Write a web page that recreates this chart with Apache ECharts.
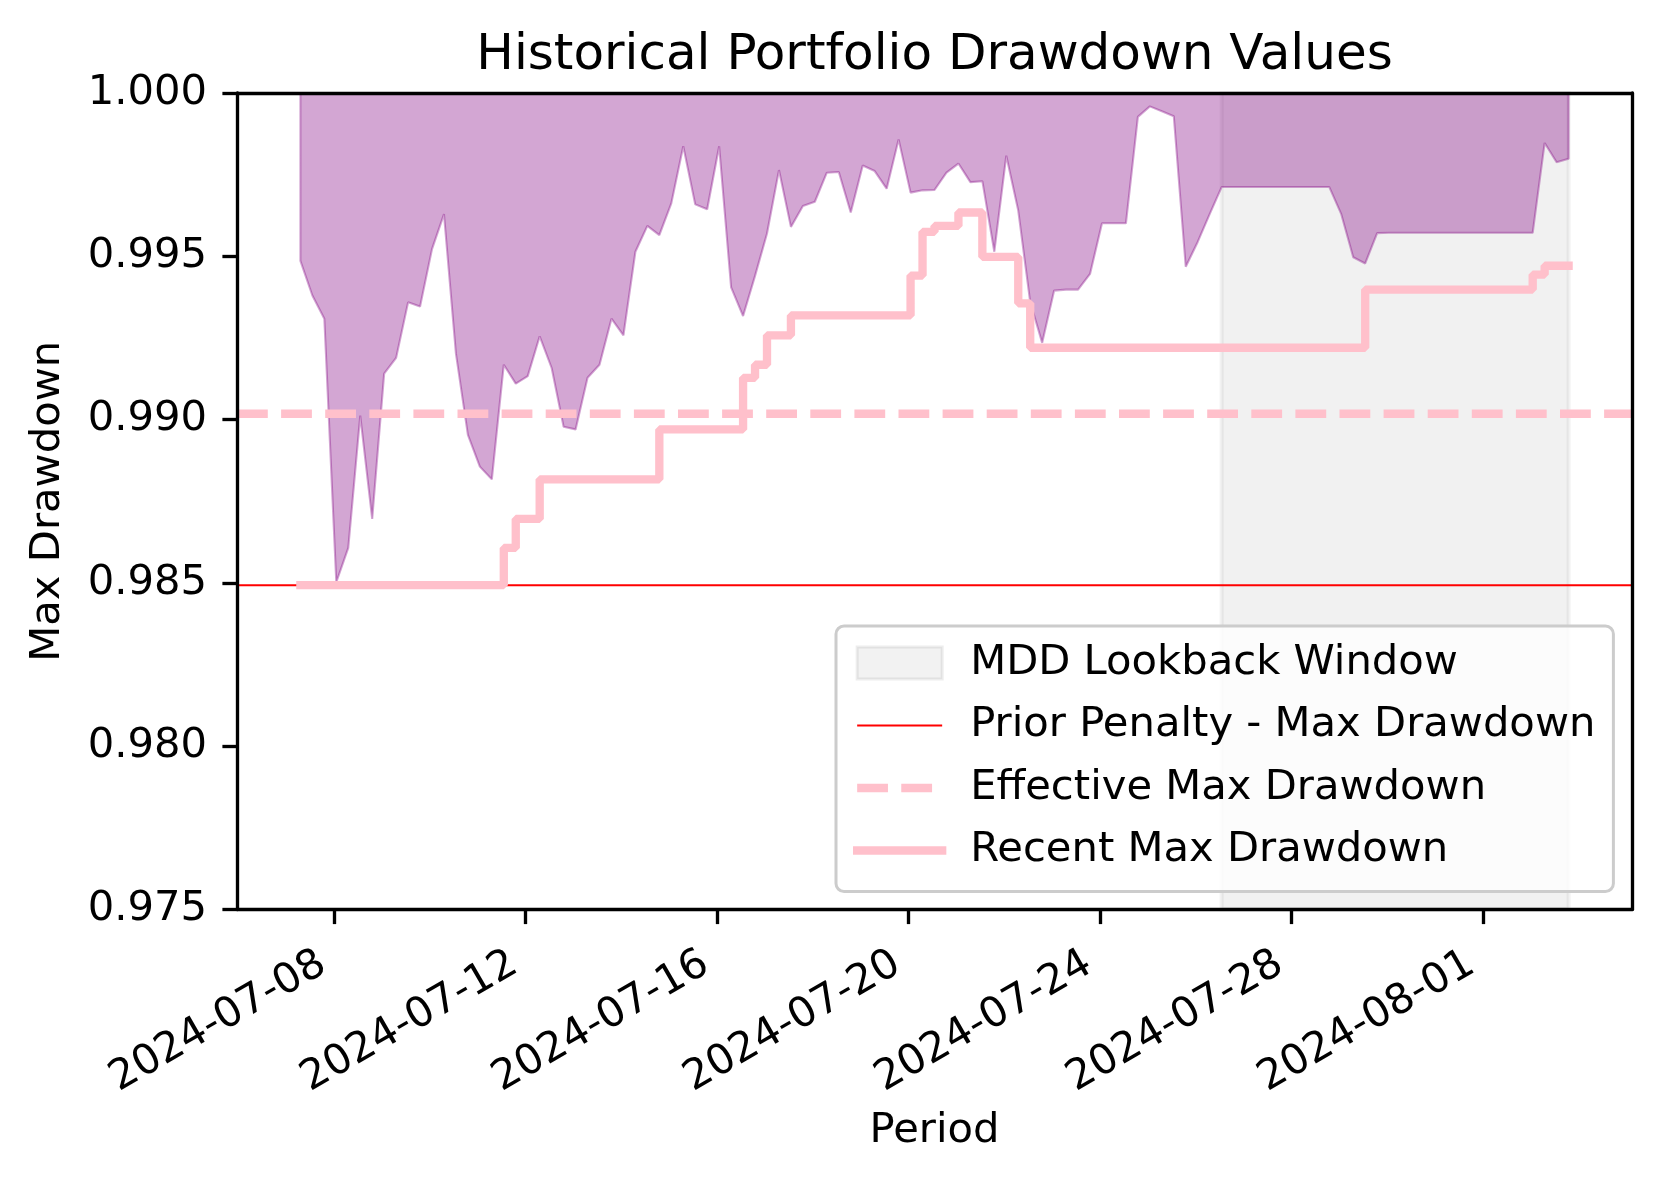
<!DOCTYPE html>
<html>
<head>
<meta charset="utf-8">
<script src="https://cdn.jsdelivr.net/npm/echarts@6/dist/echarts.min.js"></script>
<style>html,body{margin:0;padding:0;background:#fff}#chart{width:1662px;height:1184px}</style>
</head>
<body>
<div id="chart"></div>
<script>
// ---------- data ----------
const seriesStart = '2024-07-07T07:00:00Z';   // first observation
const stepHours = 6;                           // observation spacing

const drawdownValues = [
  0.99486, 0.99380, 0.99309, 0.98502, 0.98607, 0.99012, 0.98696, 0.99141, 0.99189, 0.99359,
  0.99346, 0.99522, 0.99629, 0.99202, 0.98953, 0.98856, 0.98817, 0.99168, 0.99110, 0.99133,
  0.99255, 0.99158, 0.98978, 0.98970, 0.99128, 0.99168, 0.99309, 0.99258, 0.99514, 0.99593,
  0.99565, 0.99662, 0.99837, 0.99659, 0.99644, 0.99837, 0.99405, 0.99317, 0.99440, 0.99570,
  0.99764, 0.99590, 0.99654, 0.99667, 0.99756, 0.99758, 0.99634, 0.99778, 0.99761, 0.99707,
  0.99858, 0.99695, 0.99702, 0.99703, 0.99756, 0.99784, 0.99727, 0.99730, 0.99514, 0.99808,
  0.99640, 0.99360, 0.99235, 0.99395, 0.99398, 0.99398, 0.99446, 0.99601, 0.99601, 0.99601,
  0.99927, 0.99959, 0.99944, 0.99929, 0.99468, 0.99544, 0.99629, 0.99712, 0.99712, 0.99712,
  0.99712, 0.99712, 0.99712, 0.99712, 0.99712, 0.99712, 0.99712, 0.99629, 0.99497, 0.99478,
  0.99571, 0.99572, 0.99572, 0.99572, 0.99572, 0.99572, 0.99572, 0.99572, 0.99572, 0.99572,
  0.99572, 0.99572, 0.99572, 0.99572, 0.99847, 0.99788, 0.99799
];

const recentMaxDrawdown = [
  0.98493, 0.98493, 0.98493, 0.98493, 0.98493, 0.98493, 0.98493, 0.98493, 0.98493, 0.98493,
  0.98493, 0.98493, 0.98493, 0.98493, 0.98493, 0.98493, 0.98493, 0.98493, 0.98607, 0.98696,
  0.98696, 0.98817, 0.98817, 0.98817, 0.98817, 0.98817, 0.98817, 0.98817, 0.98817, 0.98817,
  0.98817, 0.98970, 0.98970, 0.98970, 0.98970, 0.98970, 0.98970, 0.98970, 0.99128, 0.99168,
  0.99258, 0.99258, 0.99319, 0.99319, 0.99319, 0.99319, 0.99319, 0.99319, 0.99319, 0.99319,
  0.99319, 0.99319, 0.99441, 0.99575, 0.99593, 0.99593, 0.99634, 0.99634, 0.99498, 0.99498,
  0.99498, 0.99356, 0.99220, 0.99220, 0.99220, 0.99220, 0.99220, 0.99220, 0.99220, 0.99220,
  0.99220, 0.99220, 0.99220, 0.99220, 0.99220, 0.99220, 0.99220, 0.99220, 0.99220, 0.99220,
  0.99220, 0.99220, 0.99220, 0.99220, 0.99220, 0.99220, 0.99220, 0.99220, 0.99220, 0.99220,
  0.99398, 0.99398, 0.99398, 0.99398, 0.99398, 0.99398, 0.99398, 0.99398, 0.99398, 0.99398,
  0.99398, 0.99398, 0.99398, 0.99398, 0.99444, 0.99471, 0.99471
];

const effectiveMaxDrawdown = 0.99018;
const priorPenaltyMaxDrawdown = 0.98493;
const lookbackWindow = ['2024-07-26T13:00:00Z', '2024-08-02T19:00:00Z'];

const xTickDates = ['2024-07-08', '2024-07-12', '2024-07-16', '2024-07-20', '2024-07-24', '2024-07-28', '2024-08-01'];
const yTickValues = [0.975, 0.980, 0.985, 0.990, 0.995, 1.000];

const titleText = 'Historical Portfolio Drawdown Values';
const xName = 'Period';
const yName = 'Max Drawdown';
const legendNames = ['MDD Lookback Window', 'Prior Penalty - Max Drawdown', 'Effective Max Drawdown', 'Recent Max Drawdown'];

// ---------- build ----------
const t0 = Date.parse(seriesStart);
const times = drawdownValues.map((_, i) => t0 + i * stepHours * 3600e3);
const tFirst = times[0], tLast = times[times.length - 1];
const span = tLast - tFirst;
const xMin = tFirst - 0.05 * span, xMax = tLast + 0.05 * span;
const yMin = yTickValues[0], yMax = yTickValues[yTickValues.length - 1];

const areaData = [[tFirst, yMax]]
  .concat(times.map((t, i) => [t, drawdownValues[i]]))
  .concat([[tLast, yMax]]);
const recentData = times.map((t, i) => [t, recentMaxDrawdown[i]]);
const priorData = [[xMin, priorPenaltyMaxDrawdown], [xMax, priorPenaltyMaxDrawdown]];
const effectiveData = [[xMin, effectiveMaxDrawdown], [xMax, effectiveMaxDrawdown]];
const xTicks = xTickDates.map(s => Date.parse(s + 'T00:00:00Z'));

const pad = n => String(n).padStart(2, '0');
const fmtDate = v => { const d = new Date(v); return d.getUTCFullYear() + '-' + pad(d.getUTCMonth() + 1) + '-' + pad(d.getUTCDate()); };

const FS = 41.7, LW = 8.33, SP = 3.33;
const purple = 'rgba(128,0,128,0.35)';
const pink = '#ffc0cb';
const red = '#ff0000';
const black = '#000000';
const dash = [30.8, 13.3];

const chart = echarts.init(document.getElementById('chart'), null, { renderer: 'canvas' });
chart.setOption({
  animation: false,
  backgroundColor: '#ffffff',
  textStyle: { fontFamily: 'DejaVu Sans', color: black },
  title: {
    text: titleText, left: 934.5, top: 31, textAlign: 'center', padding: 0,
    textStyle: { fontSize: 50, fontWeight: 'normal', color: black, lineHeight: 50, fontFamily: 'DejaVu Sans' }
  },
  grid: { left: 237, right: 30, top: 93, bottom: 274.5, containLabel: false },
  legend: {
    data: [
      { name: legendNames[0], icon: 'rect', itemStyle: { color: 'rgba(128,128,128,0.1)', borderColor: 'rgba(128,128,128,0.14)', borderWidth: 3 } },
      { name: legendNames[1], itemStyle: { opacity: 0 }, lineStyle: { color: red, width: 2.1, type: 'solid' } },
      { name: legendNames[2], itemStyle: { opacity: 0 }, lineStyle: { color: pink, width: LW, type: dash, cap: 'butt' } },
      { name: legendNames[3], itemStyle: { opacity: 0 }, lineStyle: { color: pink, width: LW, type: 'solid', cap: 'square' } }
    ],
    orient: 'vertical', left: 836, top: 626, z: 20,
    itemWidth: 85, itemHeight: 32, itemGap: 20.5,
    padding: [16, 18, 20, 17],
    backgroundColor: 'rgba(255,255,255,0.8)', borderColor: '#cccccc', borderWidth: 3, borderRadius: 8,
    textStyle: { fontSize: FS, lineHeight: 42, color: black, padding: [0, 0, 0, 23], fontFamily: 'DejaVu Sans' },
    selectedMode: false
  },
  xAxis: [
    {
      type: 'value', min: xMin, max: xMax, position: 'bottom', z: 10,
      axisLine: { show: true, onZero: false, lineStyle: { color: black, width: SP } },
      axisTick: { show: true, length: 14.6, lineStyle: { color: black, width: SP }, customValues: xTicks },
      axisLabel: { show: true, rotate: 30, margin: 45, padding: [0, 13, 0, 0], fontSize: FS, color: black, customValues: xTicks, formatter: fmtDate },
      splitLine: { show: false },
      name: xName, nameLocation: 'middle', nameGap: 201, nameTextStyle: { fontSize: FS, color: black }
    },
    {
      type: 'value', min: xMin, max: xMax, position: 'top', z: 10,
      axisLine: { show: true, onZero: false, lineStyle: { color: black, width: SP } },
      axisTick: { show: false }, axisLabel: { show: false }, splitLine: { show: false }
    }
  ],
  yAxis: [
    {
      type: 'value', min: yMin, max: yMax, interval: 0.005, position: 'left', z: 10,
      axisLine: { show: true, onZero: false, lineStyle: { color: black, width: SP } },
      axisTick: { show: true, length: 14.6, lineStyle: { color: black, width: SP } },
      axisLabel: { show: true, margin: 30, fontSize: FS, color: black, formatter: v => v.toFixed(3) },
      splitLine: { show: false },
      name: yName, nameLocation: 'middle', nameGap: 168, nameTextStyle: { fontSize: FS, color: black }
    },
    {
      type: 'value', min: yMin, max: yMax, position: 'right', z: 10,
      axisLine: { show: true, onZero: false, lineStyle: { color: black, width: SP } },
      axisTick: { show: false }, axisLabel: { show: false }, splitLine: { show: false }
    }
  ],
  series: [
    {
      name: 'Drawdown', type: 'line', data: areaData, symbol: 'none', z: 2, silent: true,
      lineStyle: { color: purple, width: 2.1 },
      itemStyle: { color: purple },
      areaStyle: { color: purple, origin: 'end', opacity: 1 }
    },
    {
      name: legendNames[0], type: 'line', data: [], z: 3, symbol: 'none',
      itemStyle: { color: 'rgba(128,128,128,0.1)' },
      markArea: {
        silent: true,
        itemStyle: { color: 'rgba(128,128,128,0.11)', borderColor: 'rgba(128,128,128,0.1)', borderWidth: 4 },
        label: { show: false },
        data: [[{ xAxis: Date.parse(lookbackWindow[0]) }, { xAxis: Date.parse(lookbackWindow[1]) }]]
      }
    },
    {
      name: legendNames[1], type: 'line', data: priorData, z: 4, symbol: 'none', silent: true,
      lineStyle: { color: red, width: 2.1, type: 'solid' }, itemStyle: { color: red }
    },
    {
      name: legendNames[2], type: 'line', data: effectiveData, z: 5, symbol: 'none', silent: true,
      lineStyle: { color: pink, width: LW, type: dash, cap: 'butt' }, itemStyle: { color: pink }
    },
    {
      name: legendNames[3], type: 'line', data: recentData, z: 6, symbol: 'none', step: 'start', silent: true,
      lineStyle: { color: pink, width: LW, cap: 'square' }, itemStyle: { color: pink }
    }
  ]
});
</script>
</body>
</html>
